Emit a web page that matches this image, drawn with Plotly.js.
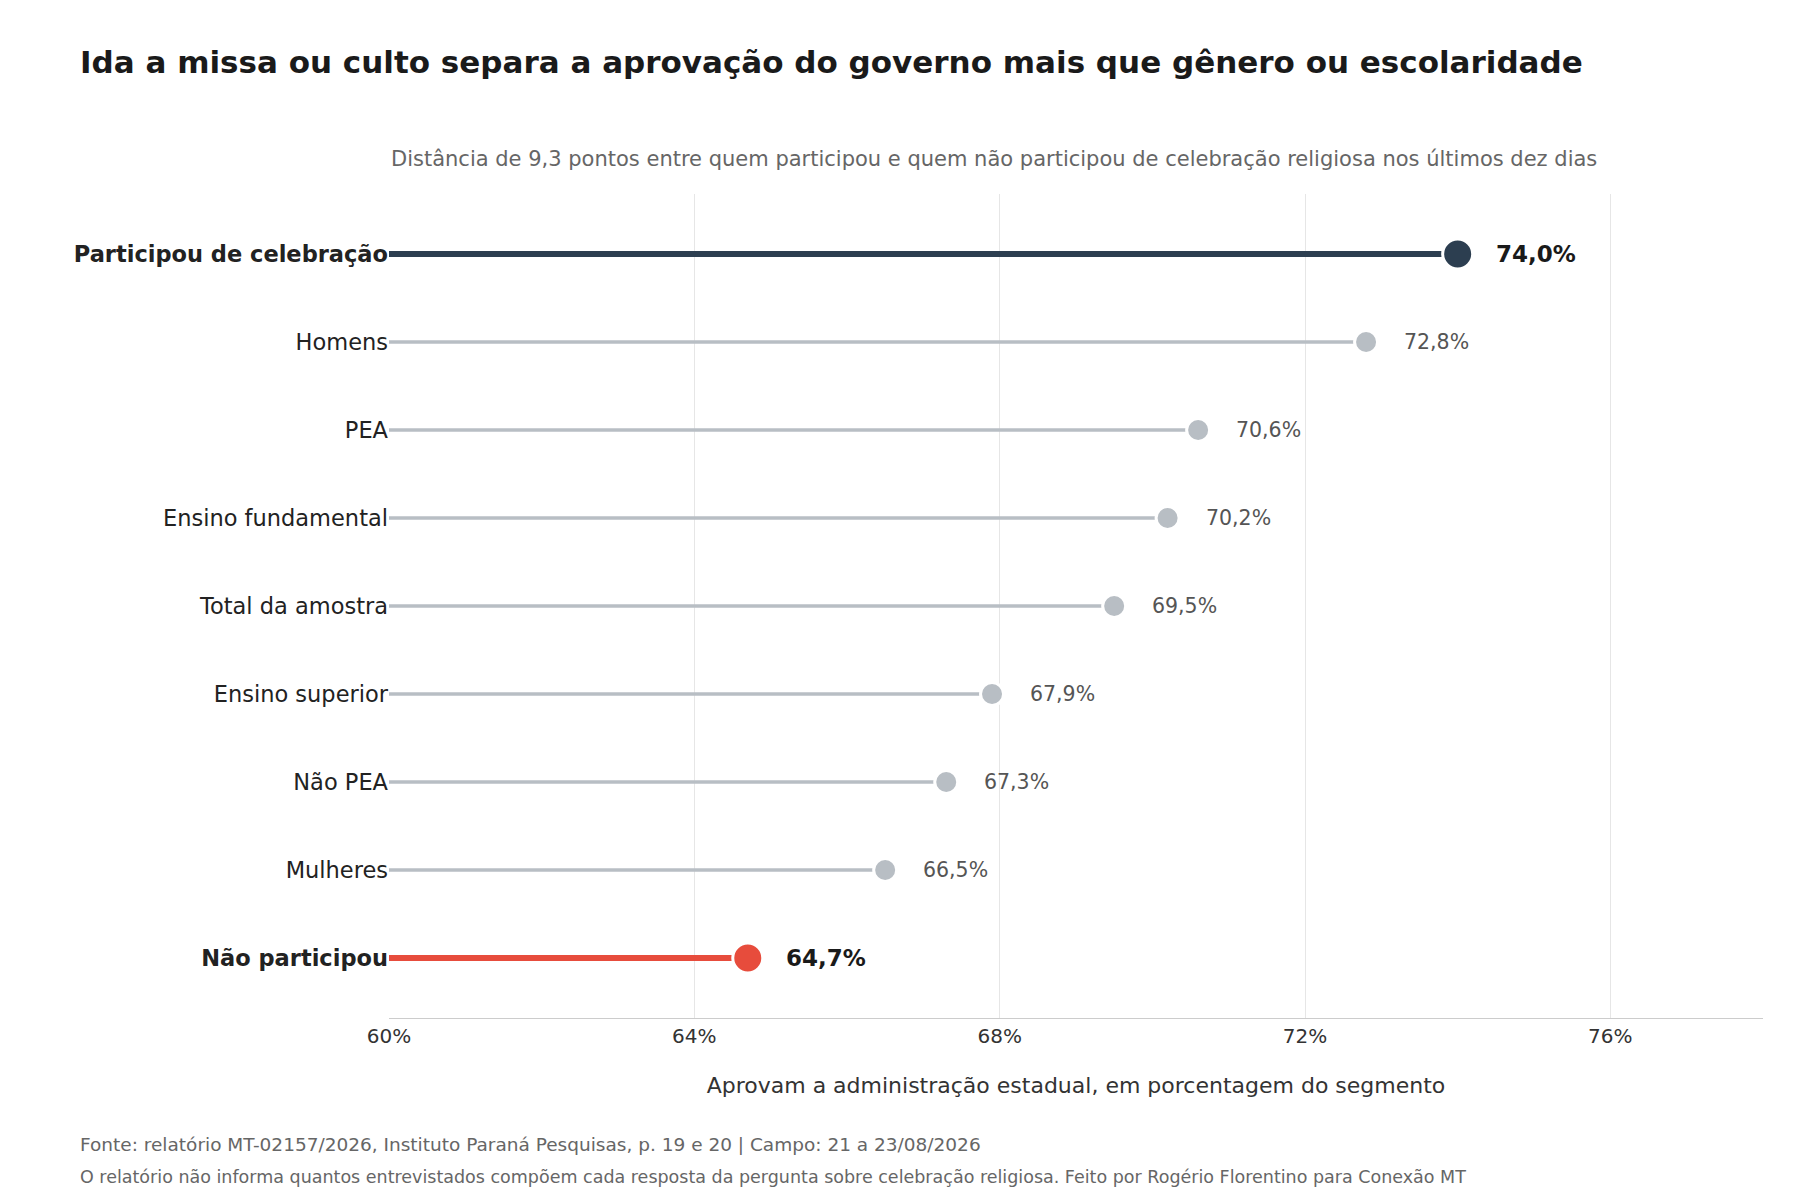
<!DOCTYPE html>
<html><head><meta charset="utf-8">
<script src="https://cdn.plot.ly/plotly-3.0.1.min.js"></script>
<style>body{margin:0;background:#fff}#chart{width:1800px;height:1200px}</style>
</head><body><div id="chart"></div>
<script>
const categories = ['Participou de celebração', 'Homens', 'PEA', 'Ensino fundamental',
  'Total da amostra', 'Ensino superior', 'Não PEA', 'Mulheres', 'Não participou'];
const values = [74.0, 72.8, 70.6, 70.2, 69.5, 67.9, 67.3, 66.5, 64.7];
const highlight = { 'Participou de celebração': '#2c3e50', 'Não participou': '#e74c3c' };
const GREY = '#b8bec4';
const BASE = 60;

const FONT = 'DejaVu Sans, sans-serif';
const fmt = v => v.toFixed(1).replace('.', ',') + '%';
const tickText = categories.map(c => highlight[c] ? `<b>${c}</b>` : c);

const traces = [];
categories.forEach((c, i) => {
  const hl = highlight[c];
  traces.push({
    x: [BASE, values[i]], y: [c, c], mode: 'lines', type: 'scatter',
    line: { color: hl || GREY, width: hl ? 6 : 3.5 }, hoverinfo: 'skip', showlegend: false,
  });
});
traces.push({
  x: values, y: categories, mode: 'markers', type: 'scatter', showlegend: false,
  marker: {
    size: categories.map(c => highlight[c] ? 30 : 23),
    color: categories.map(c => highlight[c] || GREY),
    opacity: 1,
    line: { color: '#fff', width: 3 },
  },
});

const annotations = categories.map((c, i) => ({
  x: values[i], y: c, xref: 'x', yref: 'y', text: highlight[c] ? `<b>${fmt(values[i])}</b>` : fmt(values[i]),
  showarrow: false, xanchor: 'left', xshift: 36,
  font: { family: FONT, size: highlight[c] ? 23 : 20.5, color: highlight[c] ? '#1a1a1a' : '#555' },
}));
annotations.push(
  { text: '<b>Ida a missa ou culto separa a aprovação do governo mais que gênero ou escolaridade</b>',
    xref: 'paper', yref: 'paper', x: -0.226, y: 1.185, xanchor: 'left', showarrow: false,
    font: { family: FONT, size: 31, color: '#1a1a1a' } },
  { text: 'Distância de 9,3 pontos entre quem participou e quem não participou de celebração religiosa nos últimos dez dias',
    xref: 'paper', yref: 'paper', x: 0, y: 1.06, xanchor: 'left', showarrow: false,
    font: { family: FONT, size: 21, color: '#666' } },
  { text: 'Fonte: relatório MT-02157/2026, Instituto Paraná Pesquisas, p. 19 e 20 | Campo: 21 a 23/08/2026',
    xref: 'paper', yref: 'paper', x: -0.226, y: -0.154, xanchor: 'left', yanchor: 'middle', showarrow: false,
    font: { family: FONT, size: 18.5, color: '#666' } },
  { text: 'O relatório não informa quantos entrevistados compõem cada resposta da pergunta sobre celebração religiosa. Feito por Rogério Florentino para Conexão MT',
    xref: 'paper', yref: 'paper', x: -0.226, y: -0.193, xanchor: 'left', yanchor: 'middle', showarrow: false,
    font: { family: FONT, size: 17.5, color: '#666' } },
);

Plotly.newPlot('chart', traces, {
  width: 1800, height: 1200,
  paper_bgcolor: '#fff', plot_bgcolor: '#fff',
  margin: { l: 389, r: 37, t: 194, b: 182 },
  font: { family: FONT },
  xaxis: {
    range: [60, 78], tickvals: [60, 64, 68, 72, 76], ticktext: ['60%', '64%', '68%', '72%', '76%'],
    showgrid: true, gridcolor: '#e6e6e6', zeroline: false,
    showline: true, linecolor: '#ccc', ticks: '',
    tickfont: { size: 20, color: '#333' },
    title: { text: 'Aprovam a administração estadual, em porcentagem do segmento',
      font: { size: 22, color: '#333' }, standoff: 30 },
  },
  yaxis: {
    type: 'category', categoryorder: 'array', categoryarray: categories,
    tickvals: categories, ticktext: tickText,
    autorange: 'reversed', range: [8.7, -0.7],
    showgrid: false, zeroline: false, ticks: '', ticklen: 0,
    tickfont: { size: 22.5, color: '#222' },
  },
  annotations,
}, { displayModeBar: false });
</script></body></html>
